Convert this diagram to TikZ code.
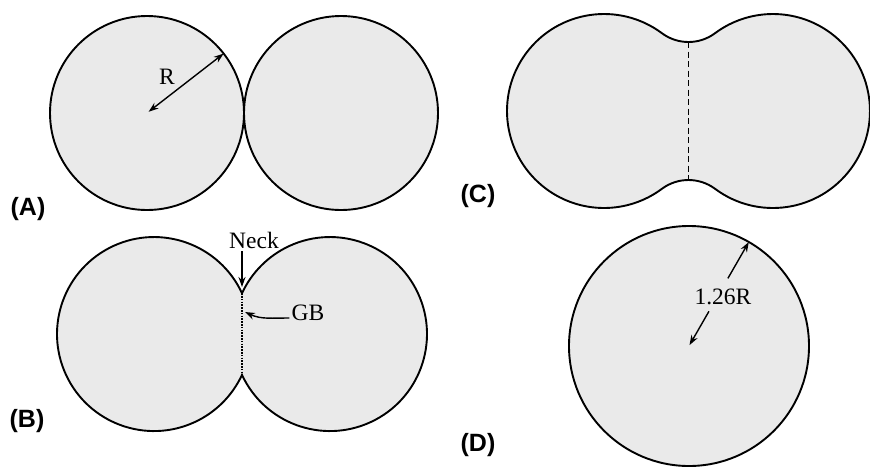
\documentclass[tikz,border=0pt]{standalone}
\usepackage{fontspec}
\setmainfont{Liberation Serif}
\newfontfamily\labelfont{Liberation Sans}
\usetikzlibrary{arrows.meta}
\definecolor{grain}{HTML}{EAEAEA}
\tikzset{
  particle/.style={fill=grain, draw=black, line width=1.9pt},
  dimarrow/.style={line width=1.4pt, -{Stealth[length=10pt,width=7pt]}},
  dimboth/.style={line width=1.4pt, {Stealth[length=10pt,width=7pt]}-{Stealth[length=10pt,width=7pt]}},
  gbline/.style={line width=1.6pt, dash pattern=on 1.6pt off 1.2pt},
  cdash/.style={line width=1.6pt, dash pattern=on 6pt off 3.5pt},
  txt/.style={inner sep=0pt, font=\fontsize{23.5}{26}\selectfont},
  panel/.style={inner sep=0pt, font=\labelfont\bfseries\fontsize{25}{28}\selectfont}
}
\begin{document}
\begin{tikzpicture}[x=1pt,y=1pt]
\useasboundingbox (0,0) rectangle (870,-467);

% ---------- (A) ----------
\draw[particle] (147,-113) circle[radius=97];
\draw[particle] (341,-113) circle[radius=97];
\coordinate (a0) at (147,-113);
\coordinate (aR) at ([shift={(37.8:97)}]147,-113);
\draw[dimboth] ([shift={(37.8:2)}]a0) -- (aR);
\node[txt] (rA) at (167,-77) {R};
\node[panel] (labA) at (28,-209) {(A)};

% ---------- (B) ----------
\draw[particle] (242,-293.2)
  arc[start angle=24.9, end angle=335.1, radius=97]
  arc[start angle=204.9, end angle=515.1, radius=97] -- cycle;
\coordinate (nT) at (242,-293.2);
\coordinate (nB) at (242,-374.8);
\draw[gbline] (nT) -- (nB);
\node[txt] (neck) at (254,-240) {Neck};
\coordinate (neckTip) at (242,-287);
\draw[dimarrow] (242,-251) -- (neckTip);
\node[txt] (gb) at (308,-313) {GB};
\coordinate (gbTip) at (245,-312);
\draw[dimarrow] ([yshift=-5pt]gb.west) ++(-2,0) to[out=180,in=-25] (gbTip);
\node[panel] (labB) at (27,-421) {(B)};

% ---------- (C) ----------
\draw[particle] ([shift={(53.34:97)}]604,-111)
  arc[start angle=53.34, end angle=306.66, radius=97]
  arc[start angle=126.66, end angle=53.34, radius=44.5]
  arc[start angle=233.34, end angle=486.66, radius=97]
  arc[start angle=306.66, end angle=233.34, radius=44.5] -- cycle;
\coordinate (cT) at (688.5,-42);
\coordinate (cB) at (688.5,-180);
\draw[cdash] (cT) -- (cB);
\node[panel] (labC) at (478,-196) {(C)};

% ---------- (D) ----------
\draw[particle] (689,-346) circle[radius=120];
\coordinate (d0) at (689,-346);
\draw[dimarrow] ([shift={(60.1:40)}]d0) -- ([shift={(60.1:1)}]d0);
\draw[dimarrow] ([shift={(60.1:78)}]d0) -- ([shift={(60.1:120)}]d0);
\node[txt] (rD) at (723,-297) {1.26R};
\node[panel] (labD) at (478,-445) {(D)};
\end{tikzpicture}
\end{document}
